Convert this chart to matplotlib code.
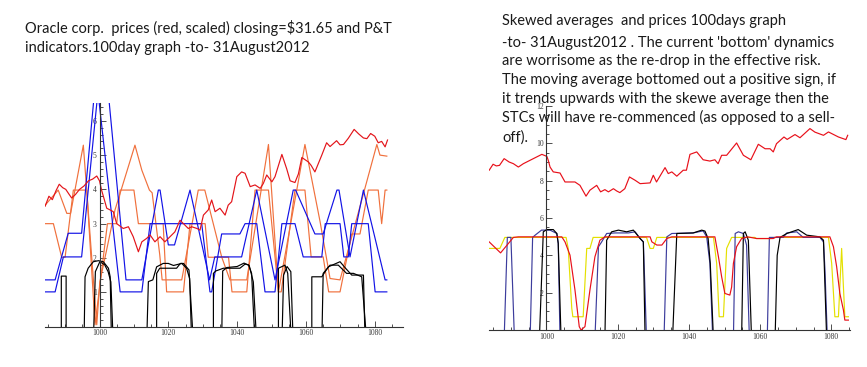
import matplotlib
matplotlib.use("Agg")
from matplotlib import pyplot as plt
from matplotlib.ticker import MultipleLocator

# ---------------- left chart: prices (scaled) and P&T indicators ----------------
price_l = [(984.2, 3.51), (985.3, 3.8), (986.3, 3.7), (987.3, 3.95), (988.3, 4.15), (989.3, 4.05),
           (990.2, 4.0), (991.2, 3.85), (991.9, 3.75), (993.0, 3.85), (994.2, 4.0), (995.5, 4.1),
           (996.8, 4.25), (998.0, 4.3), (999.2, 4.39), (1000.0, 4.25), (1000.6, 3.98), (1001.4, 3.7),
           (1002.1, 3.45), (1003.1, 3.4), (1004.0, 3.35), (1005.0, 3.0), (1006.9, 2.86), (1008.4, 2.91),
           (1009.8, 2.62), (1011.3, 2.18), (1012.3, 2.47), (1013.7, 2.57), (1014.7, 2.67), (1016.1, 2.47),
           (1017.6, 2.62), (1019.0, 2.47), (1020.5, 2.62), (1021.9, 2.76), (1023.4, 3.1), (1024.4, 3.0),
           (1025.8, 2.86), (1026.8, 2.91), (1028.3, 2.86), (1029.2, 2.81), (1030.2, 3.25), (1031.6, 3.4),
           (1032.6, 3.69), (1033.6, 3.35), (1035.0, 3.45), (1036.5, 3.25), (1037.4, 3.54), (1038.4, 3.64),
           (1039.9, 4.37), (1041.3, 4.51), (1042.3, 4.47), (1043.8, 4.08), (1045.2, 4.13), (1046.7, 4.03),
           (1047.6, 4.17), (1048.6, 4.42), (1050.1, 4.22), (1051.0, 4.37), (1053.0, 5.02), (1054.4, 4.6),
           (1055.4, 4.25), (1056.8, 4.2), (1057.8, 4.45), (1058.8, 4.93), (1060.7, 4.8), (1061.5, 4.7),
           (1062.6, 4.51), (1064.6, 5.0), (1066.0, 5.36), (1067.0, 5.25), (1068.9, 5.42), (1069.9, 5.3),
           (1070.9, 5.31), (1072.3, 5.49), (1074.0, 5.75), (1075.3, 5.62), (1076.7, 5.5), (1077.7, 5.48),
           (1078.8, 5.63), (1080.0, 5.55), (1081.0, 5.36), (1082.0, 5.4), (1083.0, 5.24), (1083.7, 5.44)]

blue_tri = [(984.2, 1.36), (987.1, 1.36), (990.9, 2.72), (994.8, 2.72), (1000.5, 9.0), (1007.7, 1.36),
            (1012.3, 1.36), (1017.1, 3.98), (1017.6, 3.98), (1020.0, 2.38), (1021.8, 2.38), (1026.3, 3.98),
            (1032.0, 1.36), (1033.5, 2.03), (1041.3, 2.03), (1045.7, 3.98), (1051.0, 1.36), (1056.3, 3.98),
            (1057.0, 3.98), (1062.6, 2.7), (1065.0, 2.7), (1069.0, 3.98), (1069.6, 3.98), (1072.8, 2.03),
            (1076.7, 3.98), (1083.0, 1.36), (1083.5, 1.36)]

blue_step = [(984.2, 1.01), (987.1, 1.01), (989.5, 2.03), (994.8, 2.03), (999.55, 6.85), (1006.0, 1.01),
             (1012.3, 1.01), (1014.7, 3.0), (1029.7, 3.0), (1032.1, 1.01), (1032.6, 1.01), (1035.5, 2.7),
             (1040.8, 2.7), (1042.3, 3.0), (1045.7, 3.0), (1048.1, 1.01), (1051.0, 1.01), (1053.0, 3.0),
             (1056.8, 3.0), (1059.2, 2.03), (1064.6, 2.03), (1065.6, 3.0), (1069.9, 3.0), (1071.0, 2.03),
             (1072.3, 2.03), (1073.3, 3.0), (1078.1, 3.0), (1080.1, 1.01), (1083.5, 1.01)]

orange_tri = [(984.2, 3.54), (988.0, 3.98), (990.5, 3.3), (991.6, 3.3), (995.3, 5.29), (999.2, 0.05),
              (1000.1, 1.31), (1002.0, 2.2), (1004.5, 3.4), (1010.3, 5.29), (1012.3, 4.56), (1014.5, 3.98),
              (1015.3, 3.9), (1017.5, 2.1), (1018.2, 1.36), (1023.9, 1.36), (1028.7, 3.98), (1030.6, 3.98),
              (1035.5, 2.03), (1037.9, 1.36), (1042.8, 1.36), (1049.1, 5.31), (1052.0, 1.01), (1059.7, 5.31),
              (1064.1, 3.06), (1067.0, 1.4), (1069.9, 1.36), (1080.6, 5.31), (1081.5, 5.0), (1083.5, 4.97)]

orange_step = [(984.2, 3.0), (986.6, 3.0), (989.0, 2.02), (990.0, 2.02), (992.4, 3.98), (996.3, 3.98),
               (998.7, 0.05), (1002.3, 3.0), (1005.0, 3.0), (1006.0, 3.98), (1010.0, 3.98), (1011.3, 3.0),
               (1018.5, 3.0), (1019.5, 1.01), (1024.4, 1.01), (1026.3, 3.0), (1030.7, 3.0), (1031.6, 2.02),
               (1037.5, 2.02), (1038.5, 1.01), (1042.8, 1.01), (1045.2, 3.98), (1049.1, 3.98), (1052.0, 1.01),
               (1052.8, 1.01), (1056.8, 3.98), (1059.7, 3.98), (1061.5, 2.03), (1065.0, 2.03), (1066.6, 1.01),
               (1069.9, 1.01), (1073.3, 2.7), (1075.7, 2.7), (1078.1, 3.98), (1081.0, 3.98), (1082.0, 3.0),
               (1083.0, 3.98), (1083.5, 3.98)]

black_step = [(988.9, -0.5), (988.9, 1.47), (990.3, 1.47), (990.3, -0.5), (995.5, -0.5), (995.8, 1.45),
              (996.7, 1.7), (998.2, 1.89), (999.7, 1.92), (1001.1, 1.89), (1002.6, 1.7), (1003.1, 1.45),
              (1003.5, -0.5), (1016.6, -0.5), (1016.6, 1.55), (1017.5, 1.7), (1022.4, 1.7), (1023.5, 1.84),
              (1024.4, 1.84), (1026.0, 1.65), (1027.3, -0.5), (1033.1, -0.5), (1033.1, 1.55), (1033.8, 1.62),
              (1036.0, 1.7), (1040.8, 1.7), (1042.3, 1.82), (1043.3, 1.8), (1044.2, 1.55), (1045.2, -0.5),
              (1052.0, -0.5), (1052.0, 1.7), (1053.9, 1.79), (1054.7, 1.55), (1055.8, -0.5), (1061.7, -0.5),
              (1061.7, 1.45), (1064.6, 1.45), (1066.5, 1.74), (1069.9, 1.89), (1071.5, 1.7), (1073.3, 1.5),
              (1076.7, 1.5), (1077.2, -0.5)]

black_smooth = [(998.2, -0.5), (998.8, 1.6), (1000.1, 1.89), (1001.5, 1.8), (1002.5, 1.6), (1003.3, 1.3),
                (1004.0, -0.5), (1013.7, -0.5), (1014.2, 1.31), (1015.5, 1.36), (1016.6, 1.74), (1018.5, 1.84),
                (1020.0, 1.84), (1021.5, 1.78), (1023.9, 1.84), (1025.3, 1.7), (1026.2, 1.4), (1026.8, -0.5),
                (1035.5, -0.5), (1035.8, 1.62), (1037.0, 1.72), (1040.0, 1.75), (1042.0, 1.85), (1043.5, 1.78),
                (1044.7, 1.3), (1045.7, -0.5), (1053.0, -0.5), (1053.5, 1.5), (1054.5, 1.75), (1055.6, 1.6),
                (1056.3, -0.5), (1064.6, -0.5), (1065.0, 1.55), (1067.0, 1.79), (1069.4, 1.79), (1071.8, 1.55),
                (1073.8, 1.55), (1076.2, 1.45), (1077.7, -0.5)]

# ---------------- right chart: skewed averages and prices ----------------
price_r = [(983.9, 8.56), (985.0, 8.88), (985.9, 8.79), (986.8, 8.82), (988.1, 9.18), (989.5, 9.0),
           (990.7, 8.91), (992.1, 8.73), (993.5, 8.91), (996.3, 9.18), (998.7, 9.41), (1000.1, 9.3),
           (1000.5, 9.09), (1001.0, 8.73), (1001.9, 8.47), (1003.8, 8.41), (1005.2, 7.93), (1008.0, 7.93),
           (1009.4, 7.75), (1011.1, 7.17), (1012.2, 7.49), (1014.1, 7.75), (1015.2, 7.4), (1016.4, 7.52),
           (1017.4, 7.4), (1018.8, 7.57), (1019.7, 7.45), (1020.6, 7.36), (1022.0, 7.57), (1023.3, 8.2),
           (1024.9, 8.02), (1026.3, 7.84), (1029.1, 7.88), (1030.0, 8.29), (1030.9, 7.93), (1033.3, 8.7),
           (1034.2, 8.38), (1035.2, 8.47), (1036.6, 8.24), (1038.4, 8.56), (1039.3, 8.56), (1040.3, 9.41),
           (1042.2, 9.54), (1044.0, 9.12), (1045.9, 9.05), (1047.3, 9.12), (1048.2, 8.91), (1049.2, 9.36),
           (1050.6, 9.36), (1053.4, 10.02), (1055.3, 9.36), (1057.4, 9.12), (1059.5, 9.95), (1061.4, 9.71),
           (1062.8, 9.71), (1063.7, 9.54), (1064.6, 9.98), (1066.7, 10.34), (1067.6, 10.21), (1069.8, 10.47),
           (1071.2, 10.3), (1074.0, 10.79), (1075.4, 10.6), (1077.8, 10.43), (1079.2, 10.61), (1082.0, 10.34),
           (1084.1, 10.2), (1084.6, 10.43)]

red_avg = [(983.9, 4.72), (987.1, 4.13), (990.7, 4.96), (992.1, 4.99), (1004.3, 4.99), (1005.2, 4.72),
           (1006.6, 4.01), (1008.0, 2.14), (1009.2, 0.18), (1009.7, 0.0), (1010.8, 0.18), (1012.2, 2.14),
           (1013.6, 3.92), (1015.0, 4.81), (1016.4, 4.99), (1029.1, 4.99), (1029.6, 4.72), (1031.0, 4.55),
           (1032.4, 4.55), (1033.8, 4.9), (1035.2, 4.99), (1047.3, 4.99), (1048.3, 3.92), (1049.2, 2.85),
           (1050.1, 1.96), (1051.5, 1.87), (1052.0, 2.3), (1052.5, 3.57), (1053.4, 4.46), (1054.8, 4.9),
           (1056.5, 4.99), (1059.0, 4.9), (1063.7, 4.9), (1064.6, 4.99), (1079.6, 4.99), (1080.6, 4.46),
           (1081.5, 3.39), (1082.4, 1.96), (1083.4, 1.07), (1083.8, 0.53), (1084.8, 0.53)]

yellow_avg = [(983.9, 4.37), (986.9, 4.37), (988.3, 4.96), (1005.5, 4.96), (1006.1, 4.37), (1007.1, 1.16),
              (1007.4, 0.71), (1010.3, 0.71), (1011.3, 4.37), (1012.2, 4.37), (1013.1, 4.96), (1028.1, 4.96),
              (1029.1, 4.37), (1030.0, 4.37), (1031.0, 4.96), (1046.9, 4.96), (1047.8, 3.57), (1048.5, 0.71),
              (1049.7, 0.71), (1050.6, 4.37), (1052.0, 4.96), (1058.5, 4.96), (1059.0, 4.9), (1063.0, 4.9),
              (1064.0, 4.96), (1079.2, 4.96), (1080.1, 3.57), (1081.0, 0.71), (1082.0, 0.71), (1082.9, 4.37),
              (1083.4, 2.32), (1083.8, 0.71), (1084.8, 0.71)]

navy_avg = [(988.1, -0.5), (989.0, 4.96), (990.0, 4.96), (991.0, -0.5), (995.4, -0.5), (996.1, 4.96),
            (996.8, 5.08), (998.6, 5.35), (1001.0, 5.35), (1002.9, 5.17), (1003.3, 4.64), (1003.8, -0.5),
            (1013.6, -0.5), (1014.6, 4.46), (1015.5, 4.72), (1016.9, 5.17), (1019.2, 5.2), (1023.0, 5.2),
            (1024.9, 5.26), (1026.3, 4.9), (1027.2, 4.72), (1027.6, 2.5), (1028.1, -0.5), (1033.0, -0.5),
            (1033.8, 4.99), (1035.2, 5.17), (1041.2, 5.2), (1044.0, 5.31), (1045.0, 4.99), (1045.9, 3.57),
            (1046.7, -0.5), (1052.5, -0.5), (1053.0, 5.17), (1053.9, 5.26), (1055.3, 5.17), (1056.2, 4.55),
            (1057.0, -0.5), (1062.0, -0.5), (1062.6, 4.96), (1066.5, 4.96), (1067.5, 5.2), (1070.3, 5.26),
            (1072.1, 4.96), (1076.8, 4.96), (1077.8, 4.72), (1078.2, 3.3), (1078.9, -0.5)]

black_avg = [(998.0, -0.5), (999.1, 5.26), (1000.1, 5.38), (1001.9, 5.38), (1002.9, 5.17), (1003.3, 4.64),
             (1004.1, -0.5), (1016.4, -0.5), (1016.9, 4.81), (1018.3, 5.26), (1020.2, 5.35), (1022.5, 5.26),
             (1024.4, 5.35), (1026.3, 4.9), (1027.2, 4.72), (1027.7, -0.5), (1035.4, -0.5), (1036.6, 5.17),
             (1041.2, 5.2), (1043.6, 5.35), (1044.5, 5.3), (1045.4, 4.9), (1046.0, 3.57), (1046.9, -0.5),
             (1054.8, -0.5), (1055.3, 5.17), (1055.8, 5.26), (1056.7, 4.81), (1057.6, -0.5), (1064.2, -0.5),
             (1064.8, 4.0), (1065.6, 4.96), (1067.5, 5.17), (1070.7, 5.38), (1073.1, 5.08), (1076.8, 4.99),
             (1077.8, 4.81), (1078.7, -0.5)]

xticks = [1000, 1020, 1040, 1060, 1080]
yticks_l = [1, 2, 3, 4, 5, 6]
yticks_r = [2, 4, 6, 8, 10, 12]

title_l = ["Oracle corp.  prices (red, scaled) closing=$31.65 and P&T",
           "indicators.100day graph -to- 31August2012"]
title_r = ["Skewed averages  and prices 100days graph",
           "-to- 31August2012 . The current 'bottom' dynamics",
           "are worrisome as the re-drop in the effective risk.",
           "The moving average bottomed out a positive sign, if",
           "it trends upwards with the skewe average then the",
           "STCs will have re-commenced (as opposed to a sell-",
           "off)."]

W, H = 867, 367
LW = 0.85


def draw(ax, pts, color):
    xs = [p[0] for p in pts]
    ys = [p[1] for p in pts]
    ax.plot(xs, ys, color=color, lw=LW)


def style(ax, yticks, yminor):
    for side in ("top", "right"):
        ax.spines[side].set_visible(False)
    ax.spines["left"].set_position(("data", 1000))
    for side in ("left", "bottom"):
        ax.spines[side].set_linewidth(0.8)
        ax.spines[side].set_color("#333333")
    ax.set_xticks(xticks)
    ax.set_yticks(yticks)
    ax.xaxis.set_minor_locator(MultipleLocator(5))
    ax.yaxis.set_minor_locator(MultipleLocator(yminor))
    ax.tick_params(which="both", direction="in", color="#333333", width=0.6)
    ax.tick_params(which="major", length=4, labelsize=5.5, labelcolor="#3a3a3a", pad=2)
    ax.tick_params(which="minor", length=2)
    for lab in ax.get_xticklabels() + ax.get_yticklabels():
        lab.set_family("Liberation Serif")
    ax.patch.set_alpha(0)


fig = plt.figure(figsize=(W / 100, H / 100), dpi=100)

ax1 = fig.add_axes([45 / W, 1 - 326.5 / H, 358 / W, 223.5 / H])
ax1.set_xlim(984.16, 1088.2)
ax1.set_ylim(0, 6.52)
draw(ax1, orange_step, "#f0703c")
draw(ax1, orange_tri, "#f0703c")
draw(ax1, blue_step, "#1212e6")
draw(ax1, blue_tri, "#1212e6")
draw(ax1, black_step, "black")
draw(ax1, black_smooth, "black")
draw(ax1, price_l, "#e3141a")
style(ax1, yticks_l, 0.2)

ax2 = fig.add_axes([489 / W, 1 - 330 / H, 361 / W, 224 / H])
ax2.set_xlim(983.85, 1085.25)
ax2.set_ylim(0, 12)
draw(ax2, yellow_avg, "#e4e000")
draw(ax2, navy_avg, "#3c3c9c")
draw(ax2, black_avg, "black")
draw(ax2, red_avg, "#e8101a")
draw(ax2, price_r, "#e8101a")
style(ax2, yticks_r, 0.5)

for i, line in enumerate(title_l):
    fig.text(25 / W, 1 - (33.3 + 18.4 * i) / H, line, family="Lato", fontsize=10.5,
             color="#1a1a1a", va="baseline")
for line, base in zip(title_r, [24.5, 46.5, 65, 84.3, 103, 122.3, 141.5]):
    fig.text(502.5 / W, 1 - base / H, line, family="Lato", fontsize=10.5,
             color="#1a1a1a", va="baseline")

fig.savefig("out.png", dpi=100)
